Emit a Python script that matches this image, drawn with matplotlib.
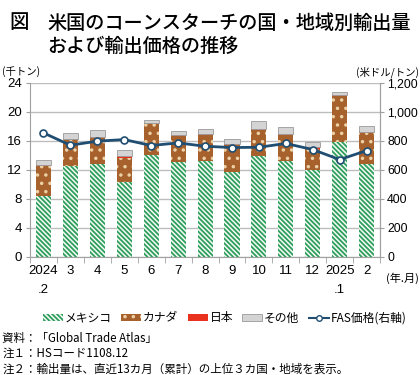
import matplotlib
matplotlib.use("Agg")
import matplotlib.pyplot as plt
import numpy as np
from matplotlib.patches import Patch
from matplotlib.lines import Line2D
from matplotlib.ticker import FuncFormatter, MultipleLocator, FixedLocator

plt.rcParams['font.family'] = ['Liberation Sans', 'Noto Sans CJK JP', 'DejaVu Sans']
plt.rcParams['hatch.linewidth'] = 1.3

labels = ["2024\n.2", "3", "4", "5", "6", "7", "8", "9", "10", "11", "12", "2025\n.1", "2"]
mexico = [8.4, 12.5, 12.8, 10.3, 14.0, 13.1, 13.2, 11.7, 13.9, 13.2, 12.0, 15.9, 12.8]
canada = [4.1, 3.7, 3.6, 3.3, 4.4, 3.6, 3.6, 3.8, 3.6, 3.6, 2.9, 6.3, 4.3]
japan = [0.2, 0.1, 0.1, 0.3, 0.1, 0.1, 0.2, 0.1, 0.1, 0.1, 0.2, 0.1, 0.1]
other = [0.7, 0.8, 1.0, 0.9, 0.4, 0.6, 0.7, 0.7, 1.1, 1.0, 0.7, 0.4, 0.8]
fas = [855, 770, 798, 809, 768, 786, 763, 754, 756, 782, 740, 671, 733]

GREEN_HATCH = '\\' * 7
fig = plt.figure(figsize=(4.2, 3.75), dpi=100)
ax = fig.add_axes([0.0714, 0.315, 0.8336, 0.464])
x = np.arange(len(labels))
w = 0.56

m = np.array(mexico); c = np.array(canada); j = np.array(japan); o = np.array(other)
ax.bar(x, m, w, facecolor='#f4fbf6', edgecolor='#2f9e5c', hatch=GREEN_HATCH, linewidth=0, zorder=2)
ax.bar(x, c, w, bottom=m, facecolor='#a6612c', edgecolor='#ecd0a6', hatch='..', linewidth=0, zorder=2)
ax.bar(x, j, w, bottom=m + c, facecolor='#e8321e', linewidth=0, zorder=2)
ax.bar(x, o, w, bottom=m + c + j, facecolor='#d4d4d4', edgecolor='#9a9a9a', linewidth=0.6, zorder=2)

ax.set_ylim(0, 24)
ax.set_xlim(-0.5, len(labels) - 0.5)
ax.yaxis.set_major_locator(MultipleLocator(4))
ax.grid(axis='y', color='#bdbdbd', linewidth=1, zorder=0)
ax.set_axisbelow(True)
ax.spines['top'].set_visible(False)
for s in ['left', 'bottom', 'right']:
    ax.spines[s].set_color('#a0a0a0')
ax.set_xticks(x)
ax.set_xticklabels(labels, fontsize=9.5, linespacing=1.7, va='top')
ax.xaxis.set_minor_locator(FixedLocator(np.arange(-0.5, len(labels), 1)))
ax.tick_params(axis='x', which='major', length=0, pad=6)
ax.tick_params(axis='x', which='minor', length=4, color='#a0a0a0')
ax.tick_params(axis='y', labelsize=9.5, length=3, color='#a0a0a0', pad=3)

ax2 = ax.twinx()
ax2.set_ylim(0, 1200)
ax2.yaxis.set_major_locator(MultipleLocator(200))
ax2.yaxis.set_major_formatter(FuncFormatter(lambda v, p: f"{int(v):,}"))
ax2.plot(x, fas, color='#1f4e72', linewidth=2, marker='o', markersize=5,
         markerfacecolor='white', markeredgecolor='#1f4e72', markeredgewidth=1.2, zorder=5)
ax2.tick_params(axis='y', labelsize=8.8, length=3, color='#a0a0a0', pad=2)
for s in ['top', 'left', 'bottom']:
    ax2.spines[s].set_visible(False)
ax2.spines['right'].set_color('#a0a0a0')

fig.text(0.022, 0.965, "図", fontsize=14, va='top', family=['Noto Sans CJK JP'], weight='medium')
fig.text(0.113, 0.965, "米国のコーンスターチの国・地域別輸出量\nおよび輸出価格の推移", fontsize=13.8,
         va='top', family=['Noto Sans CJK JP'], weight='medium', linespacing=1.15)
fig.text(0.005, 0.808, "(千トン)", fontsize=7.5, va='center', family=['Noto Sans CJK JP'])
fig.text(0.997, 0.808, "(米ドル/トン)", fontsize=7.5, va='center', ha='right', family=['Noto Sans CJK JP'])
fig.text(0.997, 0.258, "(年.月)", fontsize=8, va='center', ha='right', family=['Noto Sans CJK JP'])

handles = [
    Patch(facecolor='#f4fbf6', edgecolor='#2f9e5c', hatch=GREEN_HATCH, linewidth=0),
    Patch(facecolor='#a6612c', edgecolor='#ecd0a6', hatch='..', linewidth=0),
    Patch(facecolor='#e8321e', linewidth=0),
    Patch(facecolor='#d4d4d4', edgecolor='#9a9a9a', linewidth=0.6),
    Line2D([0], [0], color='#1f4e72', linewidth=1.5, marker='o', markersize=4,
           markerfacecolor='white', markeredgecolor='#1f4e72'),
]
fig.legend(handles, ["メキシコ", "カナダ", "日本", "その他", "FAS価格(右軸)"],
           loc='center', bbox_to_anchor=(0.535, 0.152), ncol=5, frameon=False,
           prop={'family': ['Noto Sans CJK JP'], 'size': 8.5},
           handlelength=1.7, handleheight=0.5, handletextpad=0.15, columnspacing=0.8,
           borderpad=0.1)

notes = ["資料：「Global Trade Atlas」", "注１：HSコード1108.12",
         "注２：輸出量は、直近13カ月（累計）の上位３カ国・地域を表示。"]
for i, t in enumerate(notes):
    fig.text(0.005, 0.098 - i * 0.041, t, fontsize=8.3, va='center', family=['Noto Sans CJK JP', 'DejaVu Sans'])

fig.savefig("out.png", dpi=100)
